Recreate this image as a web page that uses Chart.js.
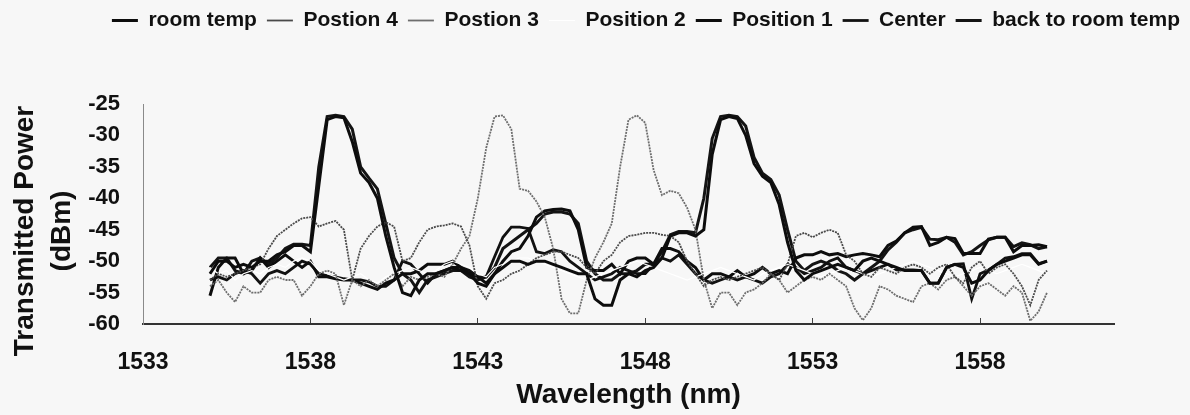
<!DOCTYPE html>
<html>
<head>
<meta charset="utf-8">
<script src="https://cdn.jsdelivr.net/npm/chart.js@4.4.1/dist/chart.umd.min.js"></script>
<style>
  html, body { margin: 0; padding: 0; background: #f7f7f7; }
</style>
</head>
<body>
<canvas id="chart" width="1190" height="415"></canvas>
<script>
// wavelength grid of the OSA traces (nm)
const wavelength = [
  1535, 1535.25, 1535.5, 1535.75, 1536, 1536.25, 1536.5, 1536.75,
  1537, 1537.25, 1537.5, 1537.75, 1538, 1538.25, 1538.5, 1538.75,
  1539, 1539.25, 1539.5, 1539.75, 1540, 1540.25, 1540.5, 1540.75,
  1541, 1541.25, 1541.5, 1541.75, 1542, 1542.25, 1542.5, 1542.75,
  1543, 1543.25, 1543.5, 1543.75, 1544, 1544.25, 1544.5, 1544.75,
  1545, 1545.25, 1545.5, 1545.75, 1546, 1546.25, 1546.5, 1546.75,
  1547, 1547.25, 1547.5, 1547.75, 1548, 1548.25, 1548.5, 1548.75,
  1549, 1549.25, 1549.5, 1549.75, 1550, 1550.25, 1550.5, 1550.75,
  1551, 1551.25, 1551.5, 1551.75, 1552, 1552.25, 1552.5, 1552.75,
  1553, 1553.25, 1553.5, 1553.75, 1554, 1554.25, 1554.5, 1554.75,
  1555, 1555.25, 1555.5, 1555.75, 1556, 1556.25, 1556.5, 1556.75,
  1557, 1557.25, 1557.5, 1557.75, 1558, 1558.25, 1558.5, 1558.75,
  1559, 1559.25, 1559.5, 1559.75, 1560
];

// transmitted power (dBm), one value per wavelength
const roomTemp = [
  -52, -50, -50, -51, -50.5, -51, -50, -50,
  -49, -48.5, -47.5, -47.5, -48.5, -38, -27.5, -27,
  -27.2, -31, -36, -37.5, -40, -46, -51, -55,
  -55.5, -53, -52, -52, -51.5, -51, -51.5, -52,
  -53.5, -54, -52, -51, -50, -50, -50.5, -50,
  -50, -50.5, -51, -51.5, -52, -52, -56, -57,
  -57, -53, -52, -52.5, -51.5, -51, -49.5, -46,
  -45.5, -45.5, -46, -45, -33, -27.5, -27, -27.3,
  -30, -34.5, -36.5, -37.5, -41, -47, -51.5, -53,
  -52, -51.5, -51, -50.5, -51, -51.5, -50, -49.5,
  -50, -50.5, -51, -51.5, -51.5, -51.5, -53.5, -53.5,
  -51, -50.5, -51, -53.5, -53, -51.5, -50.5, -50,
  -49.5, -49, -49, -50.5, -50
];
const position4 = [
  -53, -52, -52.5, -52, -51.5, -51, -50.5, -48,
  -46, -45, -44, -43.2, -43, -44.5, -44, -43.6,
  -45, -53, -48, -46, -44.5, -43.8, -44.5, -50,
  -49.5, -47, -45, -44.5, -44.3, -44, -44.5, -47.5,
  -54, -56, -53.5, -53, -52, -51.5, -50.5, -49.5,
  -49, -48.5, -48.5, -49, -49.5, -51, -52, -50,
  -49, -47, -46, -45.8, -45.5, -45.5, -45.8, -46,
  -47, -50, -52, -54, -53, -52.5, -53, -52.5,
  -52, -51.5, -51, -52, -53, -50.5, -46, -45.5,
  -46.2, -45.5, -45, -45.5, -49, -50, -52, -52.5,
  -51, -51.5, -52, -51, -50.5, -51, -52, -51,
  -50.5, -52.5, -53.5, -51, -50, -52, -51, -50.5,
  -52, -54, -57, -53, -51.5
];
const position3 = [
  -54, -53, -55, -56.5, -54, -55, -55, -53,
  -52.5, -53, -53, -55.5, -54, -52, -51.5, -52,
  -57, -53, -54, -53, -54, -53, -52, -54,
  -52.5, -53, -52.5, -52, -52.5, -50.5, -48, -46,
  -40, -32, -27, -26.8, -29, -38.5, -38.8, -40.5,
  -43, -48, -56, -58.3, -58.3, -53, -49.5, -47,
  -44, -35, -27.5, -26.8, -28, -35.5, -39.5, -38.8,
  -39.2, -41.5, -45, -53, -57.5, -55, -55, -57,
  -55, -54.5, -53.5, -52, -53, -55, -54, -53,
  -52.5, -53, -52, -53, -54, -57.5, -59.4, -57.5,
  -54, -54.5, -55.5, -56, -56.5, -54, -53.5, -54.5,
  -53, -52.5, -54, -55.5, -54, -53.5, -54.5, -55.5,
  -54, -55, -59.5, -58, -55
];
const position2 = [
  -51, -52, -51.5, -53, -52, -51.5, -52, -51,
  -50.5, -51, -50, -49.5, -50, -51.5, -52, -52.5,
  -53, -52.5, -52, -53, -53.5, -52.5, -52, -51.5,
  -51, -51.5, -52, -51.5, -50.5, -50, -50.5, -51,
  -52, -52.5, -51, -50.5, -50, -49.5, -49.5, -50,
  -50.5, -51, -51.5, -52, -52.5, -53, -52.5, -52,
  -51.5, -51, -50.5, -50, -50.5, -51, -51.5, -52,
  -52.5, -53, -52.5, -52, -51.5, -51, -51.5, -52,
  -52.5, -53, -52, -51.5, -51, -50.5, -51, -51.5,
  -52, -52.5, -52, -51.5, -51, -51.5, -52, -52.5,
  -52, -51.5, -51, -50.5, -50, -50.5, -51, -51.5,
  -52, -52.5, -52, -51.5, -51, -51.5, -52, -51.5,
  -51, -50.5, -51, -51.5, -52
];
const position1 = [
  -55.5, -51, -49.5, -49.5, -52, -51.5, -49.5, -51,
  -50, -49, -50, -51, -50, -52.5, -52.5, -52.8,
  -53, -53, -53.5, -54, -54.5, -53.5, -53, -52,
  -52, -51.5, -50.5, -50.5, -50.5, -50, -51, -52,
  -52.5, -53.5, -52, -50, -48.5, -48, -46, -43,
  -42, -41.8, -41.7, -42, -45, -51, -51.5, -51.5,
  -50.5, -52, -50, -49.5, -49.5, -50.5, -48, -48,
  -48.5, -50, -51, -53, -52, -52, -52.5, -51.5,
  -52.5, -52, -51, -52, -51.5, -52, -49.5, -49,
  -49, -48.5, -49, -48.8, -49.3, -49, -48.8, -49,
  -49.3, -47.5, -46.8, -45.5, -44.6, -44.5, -47.5, -47,
  -46.2, -46.4, -48.8, -48.8, -48.8, -46.5, -46.2, -46.2,
  -48.5, -47.5, -47.5, -47.4, -47.7
];
const center = [
  -53, -52.5, -53, -52, -51.5, -52, -53.5, -52,
  -51.5, -52, -51, -50, -50.5, -52, -52.3, -52.5,
  -52.8, -53, -53, -53.3, -54, -54, -53, -50,
  -50.5, -52, -53.5, -52, -51.5, -51, -51, -51.5,
  -52.5, -52.5, -49.3, -46.2, -44.6, -44.6, -44.8, -48.5,
  -48.8, -48.2, -48.5, -50, -51, -52, -53, -52.5,
  -52, -51, -51.5, -52, -52, -50.5, -49.5, -50,
  -49, -50.5, -52, -53, -53.5, -53, -52.5, -53,
  -52.5, -53, -53.5, -52.5, -52, -50.5, -51, -52,
  -51.5, -51, -50, -49.5, -51, -51.5, -52, -51.5,
  -51, -50.5, -51.4, -51.4, -51.4, -51.5, -53.5, -53.5,
  -51, -50.5, -50.4, -56, -52, -51.4, -50.5, -49.5,
  -49.3, -48.8, -48.8, -50.4, -50
];
const backToRoomTemp = [
  -51, -49.5, -49.5, -51.5, -52, -50, -49.5, -50.5,
  -49.5, -48, -47.3, -47.3, -47.5, -35, -27, -26.8,
  -27, -29, -35, -36.8, -38.5, -44, -49.5, -52,
  -53, -55, -53, -52.5, -52, -51.5, -51.5, -52.5,
  -53, -52.5, -51, -48, -47, -46, -45, -44,
  -42.5, -42.2, -42.2, -42.5, -44, -50, -52, -53,
  -53, -52, -52, -51.5, -50.5, -50.5, -48.5, -45.8,
  -45.3, -45.3, -45.5, -40, -30.5, -27, -26.8, -27,
  -28.5, -33.5, -36, -37, -39.5, -45, -50, -51.5,
  -50.5, -50, -50.5, -51.5, -52, -53, -52, -51,
  -50, -48.2, -47, -45.5, -45, -44.6, -46.5, -46.6,
  -46.2, -47, -49, -48.5, -47.5, -46.6, -46.2, -46.2,
  -47.7, -47.1, -47.4, -48, -47.7
];

const xTicks = [1533, 1538, 1543, 1548, 1553, 1558];
const yTicks = [-60, -55, -50, -45, -40, -35, -30, -25];
const yTitleLines = ['Transmitted Power', '(dBm)'];

const FONT = '"Liberation Sans", Arial, Helvetica, sans-serif';

function pts(values) {
  return wavelength.map((w, i) => ({ x: w, y: values[i] }));
}

function trace(label, values, color, width, dash) {
  return {
    label: label,
    data: pts(values),
    borderColor: color,
    backgroundColor: color,
    borderWidth: width,
    borderDash: dash || [],
    pointRadius: 0,
    tension: 0,
    fill: false
  };
}

// extra room above the plot for the legend row
const legendHeight = {
  id: 'legendHeight',
  afterInit(chart) {
    const fit = chart.legend.fit;
    chart.legend.fit = function () {
      fit.call(this);
      this.height = 104;
    };
  }
};

// two-line rotated title on the left
const yTitle = {
  id: 'yTitle',
  afterDraw(chart) {
    const ctx = chart.ctx;
    const xs = [33, 70];
    ctx.save();
    ctx.fillStyle = '#111';
    ctx.font = 'bold 28px ' + FONT;
    ctx.textAlign = 'center';
    ctx.textBaseline = 'alphabetic';
    yTitleLines.forEach((t, k) => {
      ctx.save();
      ctx.translate(xs[k], 231);
      ctx.rotate(-Math.PI / 2);
      ctx.fillText(t, 0, 0);
      ctx.restore();
    });
    ctx.restore();
  }
};

new Chart(document.getElementById('chart'), {
  type: 'line',
  data: {
    datasets: [
      trace('room temp', roomTemp, '#0d0d0d', 3),
      trace('Postion 4', position4, '#4a4a4a', 1.8, [2, 1]),
      trace('Postion 3', position3, '#6e6e6e', 1.8, [2, 1]),
      trace('Position 2', position2, '#ffffff', 1.2),
      trace('Position 1', position1, '#0d0d0d', 3),
      trace('Center', center, '#111111', 2.8),
      trace('back to room temp', backToRoomTemp, '#141414', 3)
    ]
  },
  options: {
    responsive: false,
    animation: false,
    layout: { padding: 0 },
    plugins: {
      legend: {
        display: true,
        position: 'top',
        align: 'end',
        labels: {
          color: '#111',
          font: { family: FONT, weight: 'bold', size: 21 },
          usePointStyle: true,
          pointStyle: 'line',
          pointStyleWidth: 26,
          padding: 10
        }
      },
      tooltip: { enabled: false }
    },
    scales: {
      x: {
        type: 'linear',
        min: 1533,
        max: 1562,
        afterBuildTicks: s => { s.ticks = xTicks.map(v => ({ value: v })); },
        afterFit: s => { s.height = 91; },
        grid: { display: true, drawOnChartArea: false, drawTicks: true, tickLength: -6, color: '#444', lineWidth: 1 },
        border: { display: true, color: '#333', width: 2 },
        ticks: {
          color: '#111',
          font: { family: FONT, weight: 'bold', size: 23 },
          padding: 31,
          maxRotation: 0,
          callback: v => String(v)
        },
        title: {
          display: true,
          text: 'Wavelength (nm)',
          color: '#111',
          font: { family: FONT, weight: 'bold', size: 28 },
          padding: { top: 0, bottom: 3 }
        }
      },
      y: {
        type: 'linear',
        min: -60,
        max: -25,
        afterBuildTicks: s => { s.ticks = yTicks.map(v => ({ value: v })); },
        afterFit: s => { s.width = 143; },
        grid: { display: false, drawTicks: false },
        border: { display: true, color: '#8a8a8a', width: 1 },
        ticks: {
          color: '#111',
          font: { family: FONT, weight: 'bold', size: 22 },
          padding: 23,
          callback: v => String(v)
        }
      },
      yRight: {
        type: 'linear',
        position: 'right',
        display: true,
        afterFit: s => { s.width = 76; },
        grid: { display: false, drawTicks: false },
        border: { display: false },
        ticks: { display: false }
      }
    }
  },
  plugins: [legendHeight, yTitle]
});
</script>
</body>
</html>
